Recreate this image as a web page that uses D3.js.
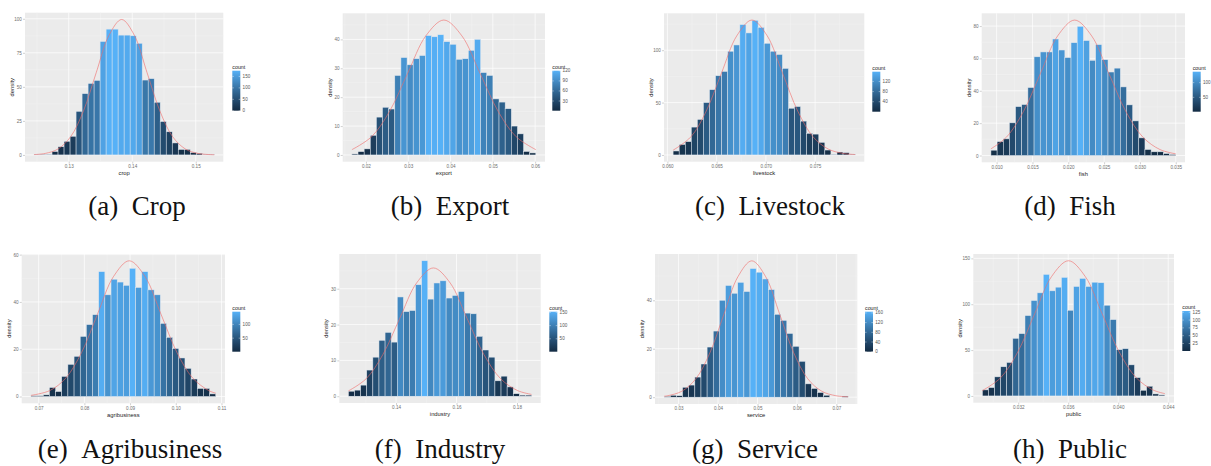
<!DOCTYPE html>
<html><head><meta charset="utf-8">
<script src="https://cdn.jsdelivr.net/npm/d3@7"></script>
<style>body{margin:0;background:#fff}svg{display:block}</style>
</head><body>
<svg id="chart" width="1211" height="466"></svg>
<script>
// ---------------- data ----------------
const N_OBS = 2000;
const variables = ["crop","export","livestock","fish","agribusiness","industry","service","public"];
const captions = ["(a)\u2002Crop","(b)\u2002Export","(c)\u2002Livestock","(d)\u2002Fish","(e)\u2002Agribusiness","(f)\u2002Industry","(g)\u2002Service","(h)\u2002Public"];

// histogram extent [first bin start, last bin end] (30 bins each)
const binRanges = [[0.12453,0.15292],[0.01668,0.06016],[0.06058,0.07907],[0.009206,0.035],
                   [0.06831,0.10875],[0.12426,0.18481],[0.026356,0.072966],[0.029134,0.043733]];

const cropDensity = [0.3,0.5,0.5,2.5,6,10,13.7,32,45,52.5,54.7,83.3,92.4,92.4,88,88,87.5,82,55,56,38.7,24.5,17,8.8,4,4,1.7,1.2,0.3,0.3];
const exportDensity = [0.35,1.15,2.1,6.8,13.1,16.5,15.9,27.5,33.7,31.2,33.3,34.4,41.3,40.9,41.6,39.2,38.3,33.1,33.3,36.2,40,28.5,27.5,19.4,18.3,16,10,7.3,1.2,0.7];
const livestockDensity = [3.8,10,12.7,26.6,33.9,50,62.3,75.6,79.7,99,105,124.4,116.5,128.5,121.8,106.6,99,95.9,82.6,44.6,46.2,32.3,20.6,19.9,12,4.7,0.6,2.8,2.2,0.6];
const fishDensity = [3.3,8.6,10.3,20.2,30.2,31.5,42,61,64,64,72,65.2,60.5,69.7,79.8,71,58.8,68.5,59.2,51.6,54,42.4,31.3,21.4,10.9,3.7,2.3,2.3,1.2,0.6];
const agribusinessDensity = [0.3,0.3,0.7,3.8,2.1,8.5,13.6,17,25.4,30.4,34.6,52.8,43,49.6,48.4,47,54.2,46.1,52.8,45.1,43,30.9,25,20.3,16.3,11.9,7.4,3.4,3.4,1.1];
const industryDensity = [1.4,1.7,3.1,7.3,10.9,15.6,17.8,15.1,27.7,23.6,23.9,31.1,37.8,27.1,31.6,32.2,27.4,28.1,29.2,23.2,23,16.7,12.9,10.9,4.3,5.6,2.6,0.7,0.3,0.3];
const serviceDensity = [0.3,0.8,0.6,4.1,5,8.3,13.7,20.7,27.3,40,46.1,42.9,47.4,43.6,53.1,51.6,48.8,44.4,34.2,31.7,26.3,21,14.8,5.5,3.6,1.9,0.8,0,0,0.4];
const publicDensity = [6.6,9.1,20.8,31.8,36.5,62.8,67.9,87.6,104,112.4,132.5,114.6,118.6,129.2,93.4,119.3,128.1,119.3,124,123.4,98.9,83.2,50.4,51.5,33.9,20,6.2,10.6,2.2,1.1];

// normal density overlay
const cropCurveX = [0.12453,0.12630,0.12831,0.13031,0.13232,0.13432,0.13633,0.13833,0.14034,0.14234,0.14435,0.14635,0.14836,0.15036,0.15292];
const cropCurveY = [0.27,1.10,4.37,13.46,32.31,60.35,87.81,99.5,87.81,60.35,32.31,13.46,4.37,1.10,0.13];
const exportCurveX = [0.01668,0.02134,0.02561,0.02988,0.03415,0.03842,0.04269,0.04696,0.05123,0.05550,0.06016];
const exportCurveY = [1.83,6.32,15.16,28.32,41.21,46.7,41.21,28.32,15.16,6.32,1.83];
const livestockCurveX = [0.06058,0.06240,0.06394,0.06549,0.06704,0.06859,0.07014,0.07169,0.07324,0.07478,0.07633,0.07788,0.07907];
const livestockCurveY = [4.54,17.43,41.82,78.12,113.67,128.8,113.67,78.12,41.82,17.43,5.65,1.43,0.42];
const fishCurveX = [0.009206,0.01136,0.01374,0.01612,0.01851,0.02089,0.02327,0.02566,0.02804,0.03042,0.03281,0.03500];
const fishCurveY = [4.14,11.32,27.18,50.76,73.87,83.7,73.87,50.76,27.18,11.32,3.67,1.04];
const agribusinessCurveX = [0.06831,0.07245,0.07592,0.07940,0.08287,0.08635,0.08982,0.09330,0.09677,0.10025,0.10372,0.10720,0.10875];
const agribusinessCurveY = [0.48,2.52,7.77,18.64,34.81,50.66,57.4,50.66,34.81,18.64,7.77,2.52,1.41];
const industryCurveX = [0.12426,0.13007,0.13564,0.14121,0.14678,0.15235,0.15792,0.16349,0.16906,0.17463,0.18020,0.18481];
const industryCurveY = [1.49,4.84,11.62,21.71,31.59,35.8,31.59,21.71,11.62,4.84,1.57,0.51];
const serviceCurveX = [0.02636,0.02730,0.03085,0.03439,0.03793,0.04147,0.04502,0.04856,0.05210,0.05565,0.05919,0.06273,0.06628,0.06982,0.07297];
const serviceCurveY = [0.41,0.62,2.47,7.62,18.28,34.15,49.68,56.3,49.68,34.15,18.28,7.62,2.47,0.62,0.15];
const publicCurveX = [0.02913,0.03060,0.03196,0.03331,0.03466,0.03602,0.03737,0.03872,0.04008,0.04143,0.04279,0.04373];
const publicCurveY = [5.81,19.94,47.86,89.40,130.08,147.4,130.08,89.40,47.86,19.94,6.47,2.54];

// tick labels
const xTickLabels = [["0.13","0.14","0.15"],["0.02","0.03","0.04","0.05","0.06"],["0.060","0.065","0.070","0.075"],
  ["0.010","0.015","0.020","0.025","0.030","0.035"],["0.07","0.08","0.09","0.10","0.11"],["0.14","0.16","0.18"],
  ["0.03","0.04","0.05","0.06","0.07"],["0.032","0.036","0.040","0.044"]];
const yTickValues = [[0,25,50,75,100],[0,10,20,30,40],[0,50,100],[0,20,40,60,80],[0,20,40,60],[0,10,20,30],[0,20,40],[0,50,100,150]];
const countTickValues = [[0,50,100,150],[30,60,90,120],[40,80,120],[50,100],[50,100],[50,100,150],[0,40,80,120,160],[25,50,75,100,125]];

const densities = [cropDensity,exportDensity,livestockDensity,fishDensity,agribusinessDensity,industryDensity,serviceDensity,publicDensity];
const curvesX = [cropCurveX,exportCurveX,livestockCurveX,fishCurveX,agribusinessCurveX,industryCurveX,serviceCurveX,publicCurveX];
const curvesY = [cropCurveY,exportCurveY,livestockCurveY,fishCurveY,agribusinessCurveY,industryCurveY,serviceCurveY,publicCurveY];

// ---------------- layout ----------------
const panelBoxes = [[25,12.7,223.3,161.7],[342.7,13.3,545,161.7],[664,13.3,864.3,161.7],[981.7,13.3,1185,162.3],
                    [21.7,254,225,403.3],[339.3,254,540.7,403],[655,254,857.3,404],[973.3,254,1174,402.7]];
const legendPos = [[232.3,70.7],[552.3,70.7],[872.3,71.7],[1192.7,71.7],[232.3,311.7],[549.3,311.7],[865,311.7],[1182.3,311]];
const captionPos = [[137,215],[450,215],[770,215],[1070,215],[130,458],[440,458],[755,458],[1070,458]];
const LEG_W = 8, LEG_H = 40;

const svg = d3.select("#chart");
const defs = svg.append("defs");
const SANS = "'Liberation Sans', Arial, sans-serif";

variables.forEach((name, p) => {
  const [bx0, by0, bx1, by1] = panelBoxes[p];
  const dens = densities[p];
  const [lo, hi] = binRanges[p];
  const nb = dens.length, bw = (hi - lo) / nb;
  const r = hi - lo;
  const x = d3.scaleLinear().domain([lo - 0.05 * r, hi + 0.05 * r]).range([bx0, bx1]);
  const M = Math.max(d3.max(dens), d3.max(curvesY[p]));
  const y = d3.scaleLinear().domain([-0.05 * M, 1.05 * M]).range([by1, by0]);

  const counts = dens.map(d => d * N_OBS * bw);
  const cmin = d3.min(counts), cmax = d3.max(counts);
  const color = d3.scaleLinear().domain([cmin, cmax]).range(["#132B43", "#56B1F7"]).interpolate(d3.interpolateLab);

  const g = svg.append("g");
  g.append("rect").attr("x", bx0).attr("y", by0).attr("width", bx1 - bx0).attr("height", by1 - by0).attr("fill", "#EBEBEB");

  const xt = xTickLabels[p].map(Number);
  const xs = xt[1] - xt[0];
  const xMinor = [];
  for (let i = -1; i < xt.length; i++) {
    const v = (i < 0 ? xt[0] - xs : xt[i]) + xs / 2;
    if (v > x.domain()[0] && v < x.domain()[1]) xMinor.push(v);
  }
  const yt = yTickValues[p];
  const ys = yt[1] - yt[0];
  const yMinor = [];
  for (let i = -1; i < yt.length; i++) {
    const v = (i < 0 ? yt[0] - ys : yt[i]) + ys / 2;
    if (v > y.domain()[0] && v < y.domain()[1]) yMinor.push(v);
  }
  const grid = g.append("g");
  grid.selectAll(".xm").data(xMinor).join("line").attr("x1", d => x(d)).attr("x2", d => x(d)).attr("y1", by0).attr("y2", by1).attr("stroke", "#F5F5F5").attr("stroke-width", 0.4);
  grid.selectAll(".ym").data(yMinor).join("line").attr("y1", d => y(d)).attr("y2", d => y(d)).attr("x1", bx0).attr("x2", bx1).attr("stroke", "#F5F5F5").attr("stroke-width", 0.4);
  grid.selectAll(".xM").data(xt).join("line").attr("x1", d => x(d)).attr("x2", d => x(d)).attr("y1", by0).attr("y2", by1).attr("stroke", "#fff").attr("stroke-width", 0.7);
  grid.selectAll(".yM").data(yt).join("line").attr("y1", d => y(d)).attr("y2", d => y(d)).attr("x1", bx0).attr("x2", bx1).attr("stroke", "#fff").attr("stroke-width", 0.7);

  // bars
  g.append("g").selectAll("rect").data(dens).join("rect")
    .attr("x", (d, i) => x(lo + i * bw))
    .attr("width", (d, i) => x(lo + (i + 1) * bw) - x(lo + i * bw))
    .attr("y", d => y(d))
    .attr("height", d => Math.max(0, y(0) - y(d)))
    .attr("fill", (d, i) => color(counts[i]))
    .attr("stroke", "#dfe6ee").attr("stroke-width", 0.5);

  // curve
  const pts = curvesX[p].map((v, i) => [v, curvesY[p][i]]);
  g.append("path").datum(pts)
    .attr("d", d3.line().x(d => x(d[0])).y(d => y(d[1])).curve(d3.curveCatmullRom.alpha(0.5)))
    .attr("fill", "none").attr("stroke", "#F06A68").attr("stroke-width", 0.6);

  // axes
  const ax = g.append("g").attr("transform", `translate(0,${by1})`)
    .call(d3.axisBottom(x).tickValues(xt).tickFormat((d, i) => xTickLabels[p][i]).tickSize(2).tickPadding(1.2));
  const ay = g.append("g").attr("transform", `translate(${bx0},0)`)
    .call(d3.axisLeft(y).tickValues(yt).tickFormat(d3.format("d")).tickSize(2).tickPadding(1.2));
  [ax, ay].forEach(a => {
    a.select(".domain").remove();
    a.selectAll(".tick line").attr("stroke", "#8a8a8a").attr("stroke-width", 0.4);
    a.selectAll(".tick text").attr("font-family", SANS).attr("font-size", 4.6).attr("fill", "#6e6e6e");
  });

  g.append("text").attr("x", (bx0 + bx1) / 2).attr("y", by1 + 13.4).attr("text-anchor", "middle")
    .attr("font-family", SANS).attr("font-size", 5.8).attr("fill", "#222").text(name);
  g.append("text").attr("transform", `translate(${bx0 - 13},${(by0 + by1) / 2}) rotate(-90)`)
    .attr("text-anchor", "middle").attr("dominant-baseline", "central")
    .attr("font-family", SANS).attr("font-size", 5.8).attr("fill", "#222").text("density");

  // legend
  const [lx, ly] = legendPos[p];
  const gid = "grad" + p;
  const grad = defs.append("linearGradient").attr("id", gid).attr("x1", 0).attr("x2", 0).attr("y1", 1).attr("y2", 0);
  d3.range(0, 1.0001, 0.1).forEach(t => grad.append("stop").attr("offset", t).attr("stop-color", color(cmin + t * (cmax - cmin))));
  const lg = svg.append("g");
  lg.append("text").attr("x", lx).attr("y", ly - 1.6).attr("font-family", SANS).attr("font-size", 5.3).attr("fill", "#222").text("count");
  lg.append("rect").attr("x", lx).attr("y", ly).attr("width", LEG_W).attr("height", LEG_H).attr("fill", `url(#${gid})`);
  const ls = d3.scaleLinear().domain([cmin, cmax]).range([ly + LEG_H, ly]);
  const lt = countTickValues[p];
  lg.selectAll(".tl").data(lt).join("line").attr("x1", lx).attr("x2", lx + 1.6).attr("y1", d => ls(d)).attr("y2", d => ls(d)).attr("stroke", "#fff").attr("stroke-width", 0.4);
  lg.selectAll(".tr").data(lt).join("line").attr("x1", lx + LEG_W - 1.6).attr("x2", lx + LEG_W).attr("y1", d => ls(d)).attr("y2", d => ls(d)).attr("stroke", "#fff").attr("stroke-width", 0.4);
  lg.selectAll(".tx").data(lt).join("text").attr("x", lx + LEG_W + 2.3).attr("y", d => ls(d)).attr("dominant-baseline", "central")
    .attr("font-family", SANS).attr("font-size", 4.6).attr("fill", "#555").text(d => d);

  // caption
  svg.append("text").attr("x", captionPos[p][0]).attr("y", captionPos[p][1]).attr("text-anchor", "middle")
    .attr("font-family", "'Liberation Serif', 'Times New Roman', serif").attr("font-size", 27).attr("fill", "#111")
    .text(captions[p]);
});
</script>
</body></html>
